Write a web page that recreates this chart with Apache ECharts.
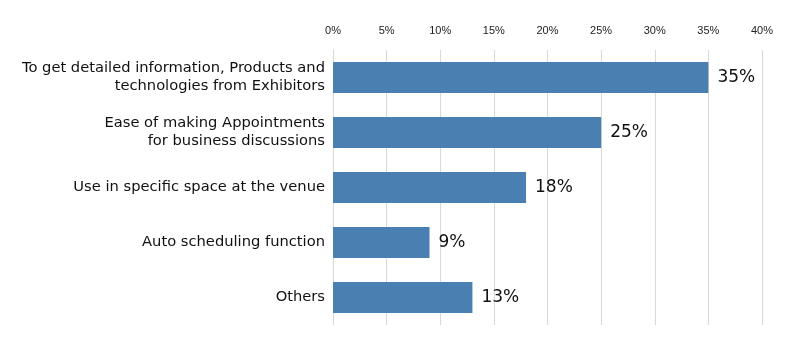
<!DOCTYPE html>
<html><head><meta charset="utf-8">
<script src="https://cdn.jsdelivr.net/npm/echarts@6/dist/echarts.min.js"></script>
<style>html,body{margin:0;padding:0;background:#fff}#c{width:800px;height:346px}</style>
</head><body><div id="c"></div>
<script>
const categories = [
  "To get detailed information, Products and\ntechnologies from Exhibitors",
  "Ease of making Appointments\nfor business discussions",
  "Use in specific space at the venue",
  "Auto scheduling function",
  "Others"
];
const values = [35, 25, 18, 9, 13];
const tickLabels = ["0%","5%","10%","15%","20%","25%","30%","35%","40%"];

const chart = echarts.init(document.getElementById('c'));
const font = "'Liberation Sans', Arial, sans-serif";
const catFont = "'DejaVu Sans', sans-serif";
chart.setOption({
  animation: false,
  grid: {left: 333, right: 38, top: 50, bottom: 21, containLabel: false},
  xAxis: {
    type: 'value', position: 'top', min: 0, max: 40, interval: 5,
    axisLine: {show: false}, axisTick: {show: false},
    splitLine: {show: true, lineStyle: {color: '#d9d9d9', width: 1}},
    axisLabel: {color: '#222', fontSize: 11, fontFamily: font, margin: 14,
      formatter: v => tickLabels[Math.round(v / 5)]}
  },
  yAxis: {
    type: 'category', data: categories, inverse: true,
    axisLine: {show: true, lineStyle: {color: '#d9d9d9'}}, axisTick: {show: false},
    axisLabel: {color: '#111', fontSize: 14.7, fontFamily: catFont, margin: 8, lineHeight: 18, align: 'right'}
  },
  series: [{
    type: 'bar', data: values, barWidth: 31,
    itemStyle: {color: '#4a7fb1'},
    label: {show: true, position: 'right', distance: 9, formatter: '{c}%',
      color: '#111', fontSize: 17, fontFamily: catFont}
  }]
});
</script></body></html>
